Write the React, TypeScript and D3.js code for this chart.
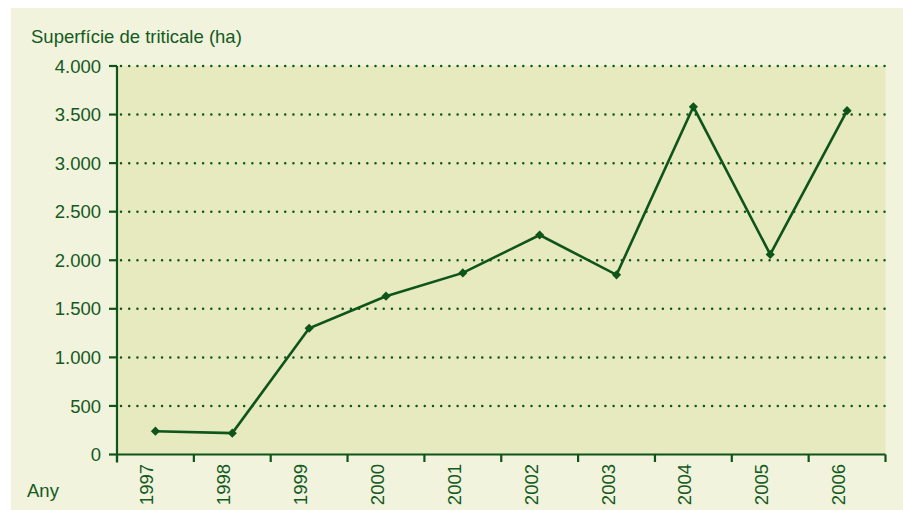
import React from "react";
import * as d3 from "d3";

const years = ["1997", "1998", "1999", "2000", "2001", "2002", "2003", "2004", "2005", "2006"];
const areaHa = [240, 220, 1300, 1630, 1870, 2260, 1850, 3580, 2060, 3540];
const yTicks = [0, 500, 1000, 1500, 2000, 2500, 3000, 3500, 4000];
const yTitle = "Superfície de triticale (ha)";
const xTitle = "Any";

const W = 903;
const H = 510;
const green = "#0d5519";
const textGreen = "#145a1f";
const font = "'Liberation Sans', Arial, Helvetica, sans-serif";
const fs = 18.5;

export default function App() {
  const x = d3.scaleBand<string>().domain(years).range([117, 885.5]);
  const y = d3.scaleLinear().domain([0, 4000]).range([454.5, 66]);
  const fmt = (v: number) => d3.format(",")(v).replace(/,/g, ".");
  const line = d3
    .line<number>()
    .x((_, i) => (x(years[i]) as number) + x.bandwidth() / 2)
    .y((d) => y(d));
  const marker = d3.symbol().type(d3.symbolSquare).size(42)();
  const boundaries = years.map((yr) => x(yr) as number).concat([x.range()[1]]);

  return (
    <div style={{ position: "absolute", left: 0, top: 0 }}>
      <svg width={W} height={H} style={{ display: "block" }}>
        <rect x={0} y={0} width={W} height={H} fill="#ffffff" />
        <rect x={11} y={8} width={W - 11} height={H - 8} fill="#f1f3dc" />
        <rect x={117} y={y(4000)} width={885.5 - 117} height={y(0) - y(4000)} fill="#e7e9bf" />
        {yTicks
          .filter((t) => t > 0)
          .map((t) => (
            <line
              key={"g" + t}
              x1={121}
              x2={885.5}
              y1={y(t)}
              y2={y(t)}
              stroke={green}
              strokeWidth={2.5}
              strokeDasharray="0.01 8.2"
              strokeLinecap="round"
            />
          ))}
        {/* y axis */}
        <line x1={117} x2={117} y1={y(4000)} y2={y(0) + 8} stroke={green} strokeWidth={2.2} />
        {yTicks.map((t) => (
          <g key={"t" + t}>
            <line x1={109} x2={117} y1={y(t)} y2={y(t)} stroke={green} strokeWidth={2.2} />
            <text
              x={101}
              y={y(t)}
              dy="0.36em"
              textAnchor="end"
              fontFamily={font}
              fontSize={fs}
              fill={textGreen}
            >
              {fmt(t)}
            </text>
          </g>
        ))}
        {/* x axis */}
        <line x1={117} x2={885.5} y1={y(0)} y2={y(0)} stroke={green} strokeWidth={2.2} />
        {boundaries.map((b, i) => (
          <line key={"b" + i} x1={b} x2={b} y1={y(0)} y2={y(0) + 7.5} stroke={green} strokeWidth={2.2} />
        ))}
        {years.map((yr) => {
          const cx = (x(yr) as number) + x.bandwidth() / 2 - 2;
          return (
            <text
              key={yr}
              transform={`translate(${cx},464) rotate(-90)`}
              textAnchor="end"
              fontFamily={font}
              fontSize={fs}
              fill={textGreen}
            >
              {yr}
            </text>
          );
        })}
        <text x={31} y={43} fontFamily={font} fontSize={fs} fill={textGreen}>
          {yTitle}
        </text>
        <text x={27} y={497} fontFamily={font} fontSize={fs} fill={textGreen}>
          {xTitle}
        </text>
        <path d={line(areaHa) || ""} fill="none" stroke={green} strokeWidth={2.6} strokeLinejoin="miter" />
        {areaHa.map((v, i) => (
          <path
            key={"m" + i}
            d={marker || ""}
            transform={`translate(${(x(years[i]) as number) + x.bandwidth() / 2},${y(v)}) rotate(45)`}
            fill={green}
          />
        ))}
      </svg>
    </div>
  );
}
